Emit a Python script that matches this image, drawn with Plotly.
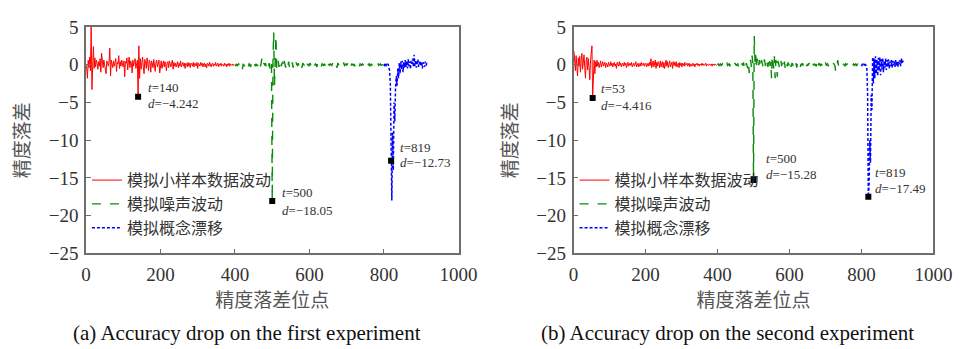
import plotly.graph_objects as go

# ---------------- data ----------------
# Panel (a): first experiment
a_red_x = list(range(0, 400, 2))
a_red_y = [0.0, -0.5, -1.8, 0.6, -0.4, 1.0, -0.8, 5.2, -3.3, 0.5,
           2.4, -0.5, 0.9, -0.3, 0.6, 0.2, -0.6, 0.4, -0.2, 0.8,
           -1.0, 1.5, 0.2, -0.4, 0.6, 0.1, -0.3, -1.2, 0.5, 0.3,
           -0.2, 0.4, 2.2, -1.5, 0.6, 0.2, -0.4, 0.5, -0.2, 0.3,
           0.8, -0.9, 0.3, 0.1, 1.2, -0.5, 0.4, -0.2, 0.6, 0.1,
           -0.3, 0.5, -1.6, 0.4, 0.2, 0.9, -0.7, 0.3, 1.0, -0.4,
           0.5, 0.2, -1.1, 0.6, -0.2, 0.4, 0.8, -0.5, 0.3, 0.6,
           -4.242, 2.5, -1.8, 0.8, -0.6, 0.4, 1.0, -0.3, -1.2, 0.7,
           0.4, -0.5, 0.9, 0.2, -0.8, 0.6, 0.3, -1.0, 0.5, 0.2,
           -0.4, 0.7, 0.1, -0.9, 0.4, 0.6, -0.3, 0.2, 0.6, -1.1,
           0.3, 0.5, -0.5, 0.2, 0.5, -0.3, 0.4, 0.1, -0.8, 0.2,
           0.4, -0.4, 0.5, 0.1, -0.3, 0.2, 0.6, -0.6, 0.3, -0.2,
           0.2, -0.3, 0.3, 0.4, -0.4, 0.2, -0.2, 0.5, -0.3, 0.1,
           0.3, -0.2, 0.2, -0.5, 0.2, 0.1, -0.3, 0.3, -0.2, 0.2,
           -0.4, 0.2, 0.1, -0.2, 0.3, -0.3, 0.2, 0.1, -0.2, 0.3,
           -0.5, 0.2, 0.0, -0.2, 0.3, -0.1, 0.2, -0.3, 0.1, 0.2,
           -0.3, 0.1, -0.4, 0.2, 0.1, -0.2, 0.3, -0.1, -0.3, 0.1,
           0.2, -0.2, 0.1, -0.1, 0.3, -0.2, 0.1, 0.2, -0.3, 0.1,
           -0.1, 0.2, -0.2, 0.1, 0.0, -0.2, 0.2, -0.1, 0.1, -0.3,
           0.1, -0.1, 0.2, -0.2, 0.1, 0.0, -0.1, 0.1, -0.1, 0.0]
a_green_x = list(range(400, 800, 2))
a_green_y = [0.0, -0.1, 0.1, -0.2, 0.0, 0.1, -0.1, 0.1, 0.2, -0.1,
             -0.6, 0.1, 0.0, -0.2, 0.1, 0.2, -0.1, 0.1, -0.2, 0.1,
             0.0, -0.3, 0.1, 0.2, -0.1, 0.0, 0.3, -0.2, 0.1, 0.0,
             -0.2, 0.1, -0.1, 0.2, -0.3, 0.1, 0.8, -0.2, 0.1, 0.2,
             -0.1, 0.2, -0.3, 0.1, 0.3, -0.2, 0.2, -0.5, 0.4, 0.1,
             -18.05, 0.5, 4.3, -2.8, 0.6, 3.8, -0.6, 0.2, 0.5, -0.3,
             0.4, 0.6, -0.2, 0.3, 0.4, -0.3, 0.5, 0.1, -0.4, 0.3,
             0.2, -0.2, 0.4, -0.3, 0.2, 0.1, -0.2, 0.3, -0.4, 0.2,
             0.1, -0.2, 0.3, 0.0, -0.1, 0.2, -0.3, 0.1, 0.2, -0.1,
             -0.4, 0.2, 0.0, -0.1, 0.2, 0.1, -0.3, 0.1, 0.0, -0.2,
             0.1, 0.2, -0.2, 0.1, 0.0, -0.1, 0.2, -0.1, 0.1, 0.0,
             -0.3, 0.2, 0.0, -0.1, 0.2, 0.1, -0.2, 0.1, 0.0, -0.1,
             0.1, -0.1, 0.2, 0.0, -0.3, 0.1, 0.0, -0.1, 0.1, 0.0,
             -0.1, 0.2, -0.2, 0.1, 0.0, 0.1, -0.1, -0.4, 0.2, 0.0,
             0.1, -0.1, 0.1, 0.0, -0.2, 0.1, 0.2, -0.1, 0.0, 0.1,
             -0.1, 0.1, 0.0, -0.3, 0.2, 0.0, -0.1, 0.1, 0.0, -0.1,
             0.1, -0.2, 0.1, 0.0, -0.1, 0.1, 0.2, -0.2, 0.1, 0.0,
             -0.1, 0.1, 0.0, -0.1, 0.2, -0.1, 0.0, 0.1, -0.1, 0.0,
             0.1, -0.2, 0.0, 0.1, -0.1, 0.0, 0.1, -0.1, 0.0, 0.1,
             -0.1, 0.0, 0.1, -0.1, 0.0, 0.1, -0.1, 0.0, 0.0, 0.0]
a_blue_x = list(range(799, 919, 2))
a_blue_y = [0.0, -0.1, 0.1, -0.2, 0.1, -0.1, 0.1, -0.3, -0.8, -2.5,
            -12.73, -18.0, -9.0, -14.0, -5.0, -7.5, -3.0, -1.5, -2.8, -0.5,
            -1.8, 0.2, -1.2, 0.4, -0.6, 0.5, -1.0, 0.3, -0.4, 0.6,
            -0.3, 0.5, -0.5, 0.7, -0.2, 0.4, -0.6, 0.5, 0.1, 0.8,
            -0.3, 1.3, -0.2, 0.6, -0.4, 0.3, 0.7, -0.3, 0.2, 0.5,
            -0.2, 0.4, -0.5, 0.3, 0.1, -0.3, 0.4, -0.1, 0.2, 0.0]
a_key_t = [140, 500, 819]
a_key_d = [-4.242, -18.05, -12.73]

# Panel (b): second experiment
b_red_x = list(range(1, 400, 2))
b_red_y = [1.8, 0.4, -0.8, 1.2, 0.3, -1.5, 0.9, -0.2, 1.1, -1.0,
           0.5, 1.5, -0.6, 0.8, 1.3, -0.4, -1.8, 0.6, 1.0, -0.7,
           0.8, -0.3, -2.0, 0.5, 1.6, 2.5, -4.416, -1.0, 0.6, -1.2,
           0.4, -0.3, 0.6, -0.2, 0.3, -0.4, 0.2, 0.5, -0.3, 0.1,
           0.4, -0.2, 0.1, 0.3, -0.4, 0.2, 0.0, -0.3, 0.3, 0.1,
           -0.2, 0.4, -0.1, 0.2, -0.3, 0.1, 0.3, -0.2, 0.1, -0.5,
           0.3, 0.0, -0.2, 0.4, -0.1, 0.2, -0.3, 0.1, 0.2, -0.2,
           0.3, -0.1, 0.2, -0.4, 0.1, 0.3, -0.2, 0.0, 0.2, -0.1,
           0.3, -0.3, 0.1, 0.2, -0.2, 0.1, 0.4, -0.3, 0.0, 0.2,
           -0.3, 0.1, 0.2, -0.2, 0.3, 0.0, -0.1, 0.2, -0.2, 0.1,
           0.2, -0.3, 0.1, 0.2, -0.2, 0.3, -0.1, 0.8, -0.4, 0.2,
           0.5, -0.3, 0.2, 0.6, -0.5, 0.3, -0.2, 0.4, 0.1, -0.4,
           0.5, -0.3, 0.2, 0.4, -0.4, 0.3, -0.5, 0.1, 0.6, -0.2,
           0.4, -0.4, 0.2, 0.5, -0.3, 0.1, 0.3, -0.5, 0.4, -0.1,
           0.3, -0.2, 0.4, -0.3, 0.1, 0.2, -0.4, 0.3, -0.1, 0.2,
           -0.3, 0.2, 0.1, -0.2, 0.3, -0.1, 0.0, 0.2, -0.2, 0.1,
           0.2, -0.3, 0.1, 0.0, -0.2, 0.2, -0.1, 0.1, -0.3, 0.1,
           0.0, 0.2, -0.1, 0.1, -0.2, 0.1, 0.0, -0.1, 0.2, -0.1,
           0.1, -0.1, 0.0, 0.2, -0.2, 0.1, 0.0, -0.1, 0.1, 0.0,
           -0.1, 0.1, -0.2, 0.1, 0.0, -0.1, 0.1, 0.0, -0.1, 0.0]
b_green_x = list(range(400, 800, 2))
b_green_y = [0.0, 0.1, -0.1, 0.0, 0.1, -0.1, 0.0, 0.1, -0.2, 0.1,
             0.0, -0.1, 0.1, 0.2, -0.1, 0.0, 0.1, -0.2, 0.1, 0.0,
             -0.1, 0.1, 0.0, -0.2, 0.2, 0.1, -0.1, 0.0, 0.1, -0.2,
             0.1, 0.0, -0.3, 0.2, 0.1, -0.1, 0.3, -0.2, 0.1, -0.4,
             0.2, -0.3, -0.5, 0.3, -1.1, 0.4, 0.6, -0.3, 1.2, 0.2,
             -15.28, 3.8, 0.4, 1.5, -0.6, 0.8, 0.2, -0.4, 0.6, 0.1,
             -0.4, 0.6, 0.3, -0.2, -0.5, 0.7, 0.2, -0.3, 0.5, 0.1,
             -0.3, 0.5, 1.0, -0.2, 0.4, -1.8, 1.2, 0.3, -0.5, 1.1,
             -1.8, 0.6, 0.2, -1.6, 0.5, 0.1, -0.4, 0.3, 0.6, -0.2,
             0.4, -0.3, 0.2, 0.4, -0.5, 0.3, 0.0, -0.2, 0.3, 0.1,
             -0.2, 0.4, -0.3, 0.1, 0.2, -0.2, 0.3, 0.0, -0.1, 0.2,
             -0.4, 0.2, 0.1, -0.1, 0.2, -0.3, 0.1, 0.0, 0.2, -0.1,
             -0.3, 0.1, 0.0, 0.2, -0.2, 0.1, -0.1, 0.2, 0.0, -0.1,
             0.1, -0.2, 0.2, 0.0, -0.1, 0.1, 0.0, -0.2, 0.1, 0.4,
             -0.3, 0.2, 0.0, -0.1, 0.1, 0.0, -0.2, 0.1, 0.2, -0.1,
             0.3, -0.1, 0.0, 0.1, -0.2, 0.1, 0.0, -0.1, 0.1, 0.0,
             -0.1, 0.2, 0.0, -0.1, -0.8, 0.1, 0.0, 0.6, -0.1, 0.1,
             0.0, -0.1, 0.2, 0.0, -0.1, 0.1, 0.0, -0.2, 0.1, 0.0,
             0.1, -0.1, 0.0, 0.1, -0.1, 0.0, 0.1, -0.1, 0.0, 0.1,
             -0.1, 0.0, 0.1, -0.1, 0.0, 0.1, 0.0, -0.1, 0.0, 0.0]
b_blue_x = list(range(799, 919, 2))
b_blue_y = [0.0, -0.1, 0.1, -0.1, 0.1, -0.2, 0.1, -0.2, -0.6, -4.0,
            -17.49, -16.0, -10.0, -13.0, -4.0, -6.0, 1.0, -2.5, 0.8, -1.8,
            1.1, -1.2, 0.6, -1.5, 0.9, -0.8, 1.0, -1.4, 0.7, -0.6,
            0.9, -1.0, 0.5, -0.4, 0.8, -0.7, 0.6, -0.3, 0.7, -0.5,
            0.4, -0.2, 0.6, -0.4, 0.5, -0.1, 0.4, -0.3, 0.6, -0.2,
            0.5, -0.3, 0.4, 0.1, 0.6, -0.2, 0.8, 0.2, 0.5, 0.3]
b_key_t = [53, 500, 819]
b_key_d = [-4.416, -15.28, -17.49]

series_names = ["模拟小样本数据波动", "模拟噪声波动", "模拟概念漂移"]
x_ticks = [0, 200, 400, 600, 800, 1000]
y_ticks = [5, 0, -5, -10, -15, -20, -25]
x_title = "精度落差位点"
y_title = "精度落差"
captions = ["(a) Accuracy drop on the first experiment",
            "(b) Accuracy drop on the second experiment"]

for xs_, ys_ in [(a_red_x, a_red_y), (a_green_x, a_green_y), (a_blue_x, a_blue_y),
                 (b_red_x, b_red_y), (b_green_x, b_green_y), (b_blue_x, b_blue_y)]:
    assert len(xs_) == len(ys_), (len(xs_), len(ys_))

# ---------------- figure ----------------
W, H = 971, 349
SERIF = "Liberation Serif"
CJK = "Noto Sans CJK SC"

fig = go.Figure()

colors = ["#ff0000", "#0a8a0a", "#0000ff"]
dashes = ["solid", "dash", "3px,2px"]
widths = [1.0, 1.4, 1.5]

panels = [
    (a_red_x, a_red_y, a_green_x, a_green_y, a_blue_x, a_blue_y, a_key_t, a_key_d, "x", "y", "legend"),
    (b_red_x, b_red_y, b_green_x, b_green_y, b_blue_x, b_blue_y, b_key_t, b_key_d, "x2", "y2", "legend2"),
]

for (rx, ry, gx, gy, bx, by, kt, kd, xa, ya, lg) in panels:
    for (sx, sy), name, c, d, w in zip([(rx, ry), (gx, gy), (bx, by)], series_names, colors, dashes, widths):
        fig.add_trace(go.Scatter(x=sx, y=sy, mode="lines", name=name,
                                 line=dict(color=c, dash=d, width=w),
                                 xaxis=xa, yaxis=ya, legend=lg))
    fig.add_trace(go.Scatter(x=kt, y=kd, mode="markers",
                             marker=dict(symbol="square", color="black", size=6),
                             xaxis=xa, yaxis=ya, showlegend=False))

# key point labels (pixel offsets: xshift, t-line yshift, d-line yshift)
offsets_a = [(8, 9, -7), (8, 8, -10), (7, 13, -2)]
offsets_b = [(6, 10, -7), (10, 22, 6), (5, 24, 8)]
for kt, kd, offs, xa, ya in [(a_key_t, a_key_d, offsets_a, "x", "y"),
                             (b_key_t, b_key_d, offsets_b, "x2", "y2")]:
    for t, dv, (xs, ty, dy) in zip(kt, kd, offs):
        for txt, ys in [(f"<i>t</i>={t}", ty), (f"<i>d</i>=−{abs(dv):g}", dy)]:
            fig.add_annotation(x=t, y=dv, xref=xa, yref=ya, text=txt, showarrow=False,
                               xanchor="left", yanchor="middle", xshift=xs, yshift=ys,
                               font=dict(family=SERIF, size=13, color="#333333"))

ydom = [1 - 259 / H, 1 - 18 / H]
xdoms = [[83 / W, 465 / W], [583 / W, 952 / W]]

axis_common = dict(showline=True, linecolor="#6e6e6e", linewidth=1.5, mirror=True,
                   ticks="inside", ticklen=5, tickcolor="#6e6e6e", tickwidth=1,
                   showgrid=False, zeroline=False,
                   tickfont=dict(family=SERIF, size=19, color="#333333"))

for i, xd in enumerate(xdoms):
    sfx = "" if i == 0 else str(i + 1)
    fig.update_layout(**{
        "xaxis" + sfx: dict(domain=xd, range=[0, 1000], tickvals=x_ticks, ticklabelstandoff=3,
                            title=dict(text=x_title, font=dict(family=CJK, size=19, color="#555555"), standoff=4),
                            anchor="y" + sfx, **axis_common),
        "yaxis" + sfx: dict(domain=ydom, range=[-25, 5], tickvals=y_ticks, ticklabelstandoff=2,
                            ticktext=[str(v).replace("-", "−") for v in y_ticks],
                            title=dict(text=y_title, font=dict(family=CJK, size=19, color="#555555"), standoff=14),
                            anchor="x" + sfx, **axis_common),
    })

legend_common = dict(bgcolor="rgba(0,0,0,0)", font=dict(family=CJK, size=16, color="#333333"),
                     yanchor="top", xanchor="left", tracegroupgap=0, itemwidth=30)
fig.update_layout(
    legend=dict(x=84 / W, y=1 - 163 / H, **legend_common),
    legend2=dict(x=584 / W, y=1 - 163 / H, **legend_common),
)

for cap, cx in zip(captions, [248, 741]):
    fig.add_annotation(x=cx / W, y=1 - 344 / H, xref="paper", yref="paper", text=cap,
                       showarrow=False, xanchor="center", yanchor="middle",
                       font=dict(family=SERIF, size=21, color="#111111"))

fig.update_layout(width=W, height=H, margin=dict(l=0, r=0, t=0, b=0),
                  paper_bgcolor="white", plot_bgcolor="white")

fig.write_html("out.html")
